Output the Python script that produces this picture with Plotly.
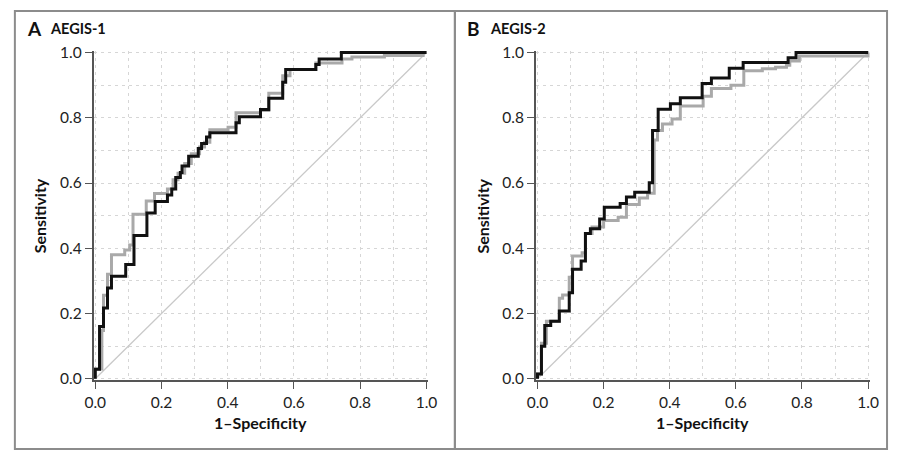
import plotly.graph_objects as go

W, H = 898, 459

# ---- data ----
a_black_fpr = [0, 0, 0.013, 0.025, 0.037, 0.049, 0.092, 0.117, 0.156, 0.181, 0.218, 0.231, 0.243, 0.257,
               0.262, 0.282, 0.311, 0.321, 0.336, 0.346, 0.425, 0.435, 0.499, 0.524, 0.566, 0.575,
               0.666, 0.676, 0.743, 1.0]
a_black_tpr = [0, 0.029, 0.16, 0.217, 0.278, 0.314, 0.35, 0.439, 0.508, 0.543, 0.563, 0.582, 0.617, 0.632,
               0.652, 0.682, 0.706, 0.721, 0.741, 0.754, 0.785, 0.803, 0.825, 0.860, 0.909, 0.948,
               0.963, 0.980, 1.0, 1.0]

a_gray_fpr = [0, 0, 0.02, 0.025, 0.037, 0.049, 0.089, 0.104, 0.114, 0.154, 0.179, 0.218, 0.235, 0.25,
              0.27, 0.29, 0.315, 0.33, 0.346, 0.401, 0.425, 0.499, 0.524, 0.566, 0.588, 0.666, 0.745,
              0.775, 0.873, 0.99, 1.0]
a_gray_tpr = [0, 0.03, 0.148, 0.256, 0.32, 0.38, 0.395, 0.41, 0.504, 0.545, 0.568, 0.582, 0.61, 0.63,
              0.66, 0.69, 0.71, 0.725, 0.763, 0.771, 0.815, 0.822, 0.875, 0.929, 0.948, 0.968, 0.98,
              0.986, 0.991, 1.0, 1.0]

b_black_fpr = [0, 0, 0.012, 0.022, 0.040, 0.066, 0.096, 0.106, 0.132, 0.145, 0.160, 0.188, 0.202, 0.25,
               0.269, 0.294, 0.338, 0.348, 0.365, 0.402, 0.432, 0.498, 0.526, 0.58, 0.622, 0.758,
               0.782, 1.0]
b_black_tpr = [0, 0.015, 0.10, 0.163, 0.176, 0.208, 0.264, 0.336, 0.361, 0.445, 0.46, 0.49, 0.526, 0.537,
               0.557, 0.572, 0.601, 0.761, 0.826, 0.843, 0.861, 0.905, 0.922, 0.952, 0.969, 0.984,
               1.0, 1.0]

b_gray_fpr = [0, 0, 0.012, 0.027, 0.066, 0.076, 0.096, 0.106, 0.135, 0.145, 0.165, 0.2, 0.244, 0.269,
              0.308, 0.333, 0.353, 0.363, 0.378, 0.407, 0.432, 0.501, 0.526, 0.585, 0.624, 0.68,
              0.72, 0.753, 0.763, 0.792, 1.0]
b_gray_tpr = [0, 0.015, 0.109, 0.176, 0.247, 0.257, 0.311, 0.376, 0.386, 0.445, 0.465, 0.485, 0.495,
              0.534, 0.554, 0.569, 0.732, 0.761, 0.781, 0.796, 0.836, 0.866, 0.89, 0.9, 0.944, 0.95,
              0.955, 0.961, 0.974, 0.989, 1.0]

diag = [0, 1]
tick_vals = [0.0, 0.2, 0.4, 0.6, 0.8, 1.0]
tick_text = ["0.0", "0.2", "0.4", "0.6", "0.8", "1.0"]
panel_letters = ["A", "B"]
panel_titles = ["AEGIS-1", "AEGIS-2"]
x_title = "1\u2013Specificity"
y_title = "Sensitivity"

FONT = "Lato, 'Open Sans', sans-serif"
BLACK = "#111111"
GRAY = "#a9a9a9"

fig = go.Figure()

panels = [
    (a_black_fpr, a_black_tpr, a_gray_fpr, a_gray_tpr, "x", "y"),
    (b_black_fpr, b_black_tpr, b_gray_fpr, b_gray_tpr, "x2", "y2"),
]
for bf, bt, gf, gt, xa, ya in panels:
    fig.add_trace(go.Scatter(x=diag, y=diag, mode="lines", line=dict(color="#c9c9c9", width=1.3),
                             xaxis=xa, yaxis=ya, hoverinfo="skip", showlegend=False))
    fig.add_trace(go.Scatter(x=gf, y=gt, mode="lines", line=dict(color=GRAY, width=3, shape="hv"),
                             xaxis=xa, yaxis=ya, showlegend=False))
    fig.add_trace(go.Scatter(x=bf, y=bt, mode="lines", line=dict(color=BLACK, width=3, shape="hv"),
                             xaxis=xa, yaxis=ya, showlegend=False))

pad = 0.005
# pixel positions of data 0 and 1
ax_px = [(88, 426), (539.3, 876.7)]
y0_px, y1_px = 383.3, 46.0


def xdom(p0, p1):
    s = (p1 - p0)
    return [(p0 - pad * s) / W, (p1 + pad * s) / W]


ydom = [(H - (y0_px + pad * (y0_px - y1_px))) / H, (H - (y1_px - pad * (y0_px - y1_px))) / H]

GRID = "#d6d6d6"
axis_common = dict(
    range=[-pad, 1 + pad],
    tickmode="array", tickvals=tick_vals, ticktext=tick_text,
    ticks="outside", ticklen=7, tickwidth=1.3, tickcolor="#555555",
    showline=True, linecolor="#555555", linewidth=1.5,
    showgrid=True, gridcolor=GRID, griddash="3px,4px", gridwidth=1.2,
    minor=dict(dtick=0.1, tick0=0, showgrid=True, gridcolor=GRID, griddash="3px,4px", gridwidth=1.2,
               ticks=""),
    zeroline=False,
    tickfont=dict(family=FONT, size=15.5, color="#222222"),
    fixedrange=True,
)

layout = dict(
    width=W, height=H,
    margin=dict(l=0, r=0, t=0, b=0),
    paper_bgcolor="white", plot_bgcolor="white",
    showlegend=False,
)
for i, (p0, p1) in enumerate(ax_px):
    sx = "" if i == 0 else str(i + 1)
    layout["xaxis" + sx] = dict(axis_common, domain=xdom(p0, p1), anchor="y" + sx)
    layout["yaxis" + sx] = dict(axis_common, domain=ydom, anchor="x" + sx)

fig.update_layout(**layout)

# panel borders
border = "#8c8c8c"
boxes = [(6, 455), (455, 896)]
for x0, x1 in boxes:
    fig.add_shape(type="rect", xref="paper", yref="paper",
                  x0=x0 / W, x1=x1 / W, y0=(H - 456) / H, y1=(H - 3) / H,
                  line=dict(color=border, width=2), layer="below")

# annotations: panel letters and titles, axis titles
for i, (p0, p1) in enumerate(ax_px):
    bx = boxes[i][0]
    fig.add_annotation(xref="paper", yref="paper", x=(bx + 10) / W, y=(H - 21) / H,
                       text="<b>%s</b>" % panel_letters[i], showarrow=False, xanchor="left", yanchor="middle",
                       font=dict(family=FONT, size=19, color="#111111"))
    fig.add_annotation(xref="paper", yref="paper", x=(bx + 34) / W, y=(H - 21) / H,
                       text="<b>%s</b>" % panel_titles[i], showarrow=False, xanchor="left", yanchor="middle",
                       font=dict(family=FONT, size=14.5, color="#111111"))
    fig.add_annotation(xref="paper", yref="paper", x=((p0 + p1) / 2) / W, y=(H - 428) / H,
                       text="<b>%s</b>" % x_title, showarrow=False, xanchor="center", yanchor="middle",
                       font=dict(family=FONT, size=16, color="#111111"))
    fig.add_annotation(xref="paper", yref="paper", x=(p0 - 56) / W, y=(H - 215) / H,
                       text="<b>%s</b>" % y_title, showarrow=False, xanchor="center", yanchor="middle",
                       textangle=-90, font=dict(family=FONT, size=16, color="#111111"))

fig.write_html("out.html", config={"displayModeBar": False},
               post_script="document.body.style.margin='0';document.body.style.overflow='hidden';")
